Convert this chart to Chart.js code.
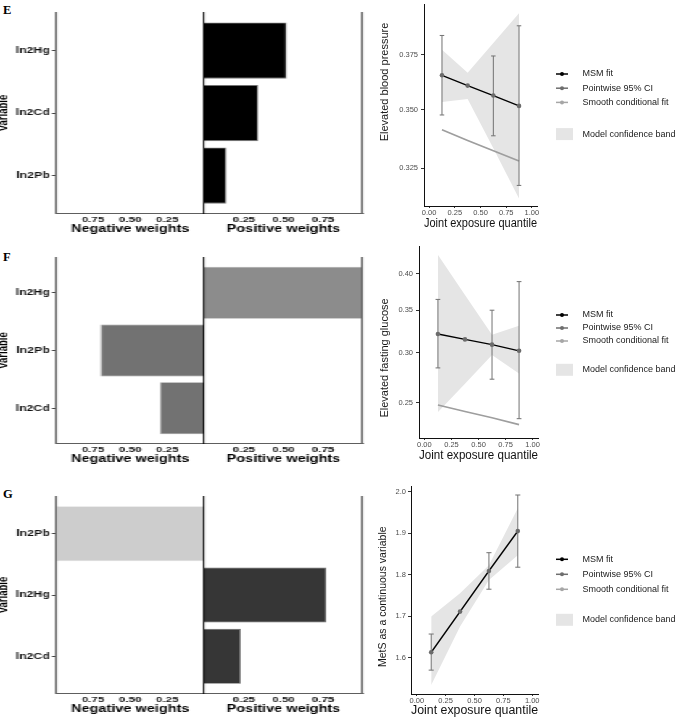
<!DOCTYPE html>
<html>
<head>
<meta charset="utf-8">
<script src="https://cdn.jsdelivr.net/npm/chart.js@4.4.1/dist/chart.umd.min.js"></script>
<style>
html,body{margin:0;padding:0;background:#fff;}
body{width:685px;height:718px;position:relative;overflow:hidden;}
#bars{position:absolute;left:0;top:0;width:254px;height:718px;transform:scaleX(1.45);transform-origin:0 0;}
.letter{position:absolute;font-family:'Liberation Serif','Times New Roman',serif;font-weight:bold;font-size:12.5px;line-height:1;color:#000;}
canvas{position:absolute;}
</style>
</head>
<body>
<div class="letter" style="left:3px;top:4px">E</div>
<div class="letter" style="left:3px;top:251px">F</div>
<div class="letter" style="left:3px;top:488px">G</div>
<div id="bars"></div>
<script>
// ---------------- data ----------------
const quantiles = [0.125, 0.375, 0.625, 0.875];
const quantileTicks = [0, 0.25, 0.5, 0.75, 1];
const weightTicks = [0.25, 0.5, 0.75];
const legendLabels = ['MSM fit', 'Pointwise 95% CI', 'Smooth conditional fit', 'Model confidence band'];
const xTitle = 'Joint exposure quantile';

// Panel E
const varsE = ['ln2Hg', 'ln2Cd', 'ln2Pb'];
const weightsE = [0.52, 0.34, 0.14];
const msmE = [0.3654, 0.3607, 0.3562, 0.3516];
const ciLowE = [0.3476, null, 0.3386, 0.3181];
const ciHighE = [0.3842, null, 0.3744, 0.3889];
const smoothE = [0.3412, 0.3366, 0.3323, 0.3280];
const bandLowE = [0.3533, 0.3547, 0.3333, 0.3129];
const bandHighE = [0.3773, 0.3666, 0.3806, 0.3951];
const yTicksE = [0.325, 0.350, 0.375];
const yTitleE = 'Elevated blood pressure';

// Panel F
const varsF = ['ln2Hg', 'ln2Pb', 'ln2Cd'];
const weightsF = [1.00, -0.70, -0.30];
const msmF = [0.3210, 0.3148, 0.3088, 0.3020];
const ciLowF = [0.2838, null, 0.2724, 0.2360];
const ciHighF = [0.3640, null, 0.3500, 0.3883];
const smoothF = [0.2480, 0.2422, 0.2368, 0.2310];
const bandLowF = [0.2417, 0.2680, 0.2975, 0.2780];
const bandHighF = [0.4280, 0.3700, 0.3200, 0.3307];
const yTicksF = [0.25, 0.30, 0.35, 0.40];
const yTitleF = 'Elevated fasting glucose';

// Panel G
const varsG = ['ln2Pb', 'ln2Hg', 'ln2Cd'];
const weightsG = [-1.00, 0.77, 0.23];
const msmG = [1.613, 1.711, 1.809, 1.905];
const ciLowG = [1.570, null, 1.765, 1.818];
const ciHighG = [1.657, null, 1.853, 1.992];
const smoothG = [1.613, 1.711, 1.809, 1.905];
const bandLowG = [1.534, 1.675, 1.787, 1.847];
const bandHighG = [1.699, 1.755, 1.823, 1.960];
const yTicksG = [1.6, 1.7, 1.8, 1.9, 2.0];
const yTitleG = 'MetS as a continuous variable';

// ---------------- styles ----------------
const FONT = "'Liberation Sans', Arial, Helvetica, sans-serif";
Chart.defaults.font.family = FONT;
Chart.defaults.animation = false;

const barColorsE = ['#000000', '#000000', '#000000'];
const barBorderE = ['#7a7a7a', '#7a7a7a', '#7a7a7a'];
const barColorsF = ['#8c8c8c', '#727272', '#727272'];
const barBorderF = ['#a8a8a8', '#999999', '#999999'];
const barColorsG = ['#cdcdcd', '#363636', '#363636'];
const barBorderG = ['#dedede', '#6a6a6a', '#6a6a6a'];

// ---------------- bar rows ----------------
function makeCanvas(parent, left, top, w, h) {
  const c = document.createElement('canvas');
  c.width = w; c.height = h;
  c.style.left = left + 'px'; c.style.top = top + 'px';
  c.style.width = w + 'px'; c.style.height = h + 'px';
  parent.appendChild(c);
  return c;
}

function barRow(o) {
  const wrap = document.getElementById('bars');
  const idx = o.vars.map((_, i) => i + 1);
  const yScale = (extra) => Object.assign({
    type: 'linear', min: 0.4, max: 3.6, reverse: true, offset: false,
    afterBuildTicks: s => { s.ticks = idx.map(v => ({ value: v })); }
  }, extra);
  const xTickOpts = {
    callback: v => v.toFixed(2), autoSkip: false, maxRotation: 0,
    font: { family: FONT, weight: 'bold', size: 8 }, color: '#111', padding: 1.5
  };
  const common = (data) => ({
    type: 'bar',
    data: { datasets: [{ data, backgroundColor: o.colors, borderColor: o.borders, borderWidth: 0.8,
      barPercentage: 0.9, categoryPercentage: 1.0 }] },
  });
  const negData = o.vars.map((v, i) => ({ x: o.weights[i] < 0 ? -o.weights[i] : null, y: idx[i] }));
  const posData = o.vars.map((v, i) => ({ x: o.weights[i] > 0 ? o.weights[i] : null, y: idx[i] }));

  const negCfg = common(negData);
  negCfg.options = {
    indexAxis: 'y', responsive: false, animation: false,
    layout: { padding: { top: o.padTop, bottom: o.padBottom, left: 0, right: 0 } },
    plugins: { legend: { display: false }, tooltip: { enabled: false } },
    scales: {
      x: {
        type: 'linear', min: 0, max: 1, reverse: true,
        afterBuildTicks: s => { s.ticks = weightTicks.map(v => ({ value: v })); },
        ticks: xTickOpts,
        grid: { display: false, drawTicks: false },
        border: { display: true, color: '#5e5e5e', width: 1, z: 1 },
        title: { display: true, text: 'Negative weights', color: '#000', padding: 0,
          font: { family: FONT, weight: 'bold', size: 10 } },
        afterFit: s => { s.height = 22; }
      },
      y: yScale({
        ticks: { callback: v => o.vars[v - 1], autoSkip: false, padding: 1.5, color: '#111',
          font: { family: FONT, weight: 'bold', size: 8.5 } },
        grid: { display: true, offset: false, drawOnChartArea: false, drawTicks: true, tickLength: 2.7, color: '#444' },
        border: { display: true, color: '#666666', width: 1.2, z: 1 },
        title: { display: true, text: 'Variable', color: '#000', padding: 0,
          font: { family: FONT, weight: 'bold', size: 9.5, lineHeight: 0.55 } },
        afterFit: s => { s.width = 38.6; s.paddingTop = 0; s.paddingBottom = 0; }
      })
    }
  };
  new Chart(makeCanvas(wrap, 0, o.top, 141, o.height), negCfg);

  const posCfg = common(posData);
  posCfg.options = {
    indexAxis: 'y', responsive: false, animation: false,
    layout: { padding: { top: o.padTop, bottom: o.padBottom, left: 0, right: 4 } },
    plugins: { legend: { display: false }, tooltip: { enabled: false } },
    scales: {
      x: {
        type: 'linear', min: 0, max: 1,
        afterBuildTicks: s => { s.ticks = weightTicks.map(v => ({ value: v })); },
        ticks: xTickOpts,
        grid: { display: false, drawTicks: false },
        border: { display: true, color: '#5e5e5e', width: 1, z: 1 },
        title: { display: true, text: 'Positive weights', color: '#000', padding: 0,
          font: { family: FONT, weight: 'bold', size: 10 } },
        afterFit: s => { s.height = 22; }
      },
      y: yScale({
        ticks: { display: false },
        grid: { display: false, offset: false, drawTicks: false },
        border: { display: true, color: '#000000', width: 1.1, z: 1 },
        title: { display: false },
        afterFit: s => { s.width = 3; s.paddingTop = 0; s.paddingBottom = 0; }
      }),
      yRight: {
        type: 'linear', position: 'right', display: true, min: 0, max: 1,
        ticks: { display: false }, grid: { display: false, drawTicks: false },
        border: { display: true, color: '#666666', width: 1.2, z: 1 },
        afterFit: s => { s.width = 0; s.paddingTop = 0; s.paddingBottom = 0; }
      }
    }
  };
  new Chart(makeCanvas(wrap, 138, o.top, 116, o.height), posCfg);
}

barRow({ vars: varsE, weights: weightsE, colors: barColorsE, borders: barBorderE, top: 0, height: 240, padTop: 13, padBottom: 5 });
barRow({ vars: varsF, weights: weightsF, colors: barColorsF, borders: barBorderF, top: 240, height: 225, padTop: 18, padBottom: 0 });
barRow({ vars: varsG, weights: weightsG, colors: barColorsG, borders: barBorderG, top: 470, height: 248, padTop: 27, padBottom: 3 });

// ---------------- line charts ----------------
const ggLegendPlugin = {
  id: 'ggLegend',
  afterDraw(chart, args, o) {
    const ctx = chart.ctx;
    ctx.save();
    ctx.font = '9px ' + FONT;
    ctx.textBaseline = 'middle';
    ctx.textAlign = 'left';
    o.items.forEach((it, i) => {
      let y = o.top + i * o.step;
      if (it.kind === 'band') {
        y = o.top + 2 * o.step + o.gap;
        ctx.fillStyle = it.color;
        ctx.fillRect(o.x, y - 6, 17, 12);
      } else {
        ctx.strokeStyle = it.color; ctx.lineWidth = 1.5;
        ctx.beginPath(); ctx.moveTo(o.x, y); ctx.lineTo(o.x + 12, y); ctx.stroke();
        ctx.fillStyle = it.color;
        ctx.beginPath(); ctx.arc(o.x + 6, y, 2, 0, Math.PI * 2); ctx.fill();
      }
      ctx.fillStyle = '#1a1a1a';
      ctx.fillText(it.text, o.textX, y);
    });
    ctx.restore();
  }
};

const yTitlePlugin = {
  id: 'yTitleText',
  afterDraw(chart, args, o) {
    const ctx = chart.ctx;
    ctx.save();
    ctx.translate(o.x, o.y);
    ctx.rotate(-Math.PI / 2);
    ctx.font = o.size + 'px ' + FONT;
    ctx.fillStyle = '#1a1a1a';
    ctx.textAlign = 'center';
    ctx.textBaseline = 'middle';
    ctx.fillText(o.text, 0, 0);
    ctx.restore();
  }
};

function errorBarPoints(q, lo, hi, cap) {
  const pts = [];
  q.forEach((x, i) => {
    if (lo[i] == null || hi[i] == null) return;
    pts.push({ x, y: lo[i] }, { x, y: hi[i] }, { x, y: null });
    pts.push({ x: x - cap, y: lo[i] }, { x: x + cap, y: lo[i] }, { x, y: null });
    pts.push({ x: x - cap, y: hi[i] }, { x: x + cap, y: hi[i] }, { x, y: null });
  });
  return pts;
}

function lineChart(o) {
  const c = makeCanvas(document.body, 370, o.top, 315, o.height);
  const pts = arr => quantiles.map((x, i) => ({ x, y: arr[i] }));
  const axisGrid = { display: true, drawOnChartArea: false, drawTicks: true, color: '#333' };
  new Chart(c, {
    type: 'line',
    data: {
      datasets: [
        { label: 'points', data: pts(o.msm), showLine: false, pointRadius: 2.3, pointBackgroundColor: '#6b6b6b', pointBorderWidth: 0, order: 0 },
        { label: 'ci', data: errorBarPoints(quantiles, o.lo, o.hi, 0.022), borderColor: '#727272', borderWidth: 1, pointRadius: 0, spanGaps: false, order: 1 },
        { label: 'msm', data: pts(o.msm), borderColor: '#000', borderWidth: 1.3, pointRadius: 0, order: 2 },
        { label: 'smooth', data: pts(o.smooth), borderColor: '#9e9e9e', borderWidth: 1.7, pointRadius: 0, order: 3 },
        { label: 'bandHigh', data: pts(o.bandHigh), borderColor: 'rgba(0,0,0,0)', borderWidth: 0, pointRadius: 0, fill: '+1', backgroundColor: '#e5e5e5', order: 4 },
        { label: 'bandLow', data: pts(o.bandLow), borderColor: 'rgba(0,0,0,0)', borderWidth: 0, pointRadius: 0, fill: false, order: 5 }
      ]
    },
    options: {
      responsive: false, animation: false,
      layout: { padding: { top: o.padTop, bottom: o.padBottom, left: 0, right: o.padRight } },
      plugins: {
        legend: { display: false }, tooltip: { enabled: false },
        ggLegend: {
          x: 186, textX: 212.5, top: o.legTop, step: o.legStep, gap: o.legGap,
          items: [
            { kind: 'line', color: '#000000', text: legendLabels[0] },
            { kind: 'line', color: '#6e6e6e', text: legendLabels[1] },
            { kind: 'line', color: '#a6a6a6', text: legendLabels[2] },
            { kind: 'band', color: '#e5e5e5', text: legendLabels[3] }
          ]
        },
        yTitleText: { text: o.yTitle, x: o.titleX, y: o.titleY, size: o.titleSize }
      },
      scales: {
        x: {
          type: 'linear', min: -0.05, max: 1.05,
          afterBuildTicks: s => { s.ticks = quantileTicks.map(v => ({ value: v })); },
          ticks: { callback: v => v.toFixed(2), autoSkip: false, maxRotation: 0, padding: 0, color: '#4d4d4d', font: { family: FONT, size: 7.5 } },
          grid: Object.assign({ tickLength: 2 }, axisGrid),
          border: { display: true, color: '#111', width: 1 },
          title: { display: true, text: xTitle, color: '#111', padding: 0, font: { family: FONT, size: 12.5 } },
          afterFit: s => { s.height = o.xH; }
        },
        y: {
          type: o.yType, min: o.yMin, max: o.yMax,
          afterBuildTicks: s => { s.ticks = o.yTicks.map(v => ({ value: v })); },
          ticks: { callback: v => Number(v).toFixed(o.yDec), autoSkip: false, padding: o.yPad, color: '#4d4d4d', font: { family: FONT, size: 7.5 } },
          grid: Object.assign({ tickLength: 3 }, axisGrid),
          border: { display: true, color: '#111', width: 1 },
          afterFit: s => { s.width = o.yW; s.paddingTop = 0; s.paddingBottom = 0; }
        }
      }
    },
    plugins: [ggLegendPlugin, yTitlePlugin]
  });
}

lineChart({
  top: 0, height: 235, padTop: -4, padBottom: 3.5, padRight: 148, xH: 25.5, yW: 54, yPad: 3,
  msm: msmE, lo: ciLowE, hi: ciHighE, smooth: smoothE, bandLow: bandLowE, bandHigh: bandHighE,
  yType: 'logarithmic', yMin: 0.30996, yMax: 0.39972, yTicks: yTicksE, yDec: 3,
  yTitle: yTitleE, titleX: 15, titleY: 82, titleSize: 11,
  legTop: 74, legStep: 14.2, legGap: 31.7
});
lineChart({
  top: 235, height: 230, padTop: 11, padBottom: 1.5, padRight: 147, xH: 25.5, yW: 49, yPad: 3,
  msm: msmF, lo: ciLowF, hi: ciHighF, smooth: smoothF, bandLow: bandLowF, bandHigh: bandHighF,
  yType: 'logarithmic', yMin: 0.22467, yMax: 0.44195, yTicks: yTicksF, yDec: 2,
  yTitle: yTitleF, titleX: 15, titleY: 123, titleSize: 11,
  legTop: 80, legStep: 13, legGap: 28.8
});
lineChart({
  top: 470, height: 248, padTop: 16, padBottom: 0, padRight: 147, xH: 24, yW: 41, yPad: 2,
  msm: msmG, lo: ciLowG, hi: ciHighG, smooth: smoothG, bandLow: bandLowG, bandHigh: bandHighG,
  yType: 'linear', yMin: 1.5125, yMax: 2.0137, yTicks: yTicksG, yDec: 1,
  yTitle: yTitleG, titleX: 13, titleY: 126.7, titleSize: 10.5,
  legTop: 89.3, legStep: 15, legGap: 30.5
});
</script>
</body>
</html>
